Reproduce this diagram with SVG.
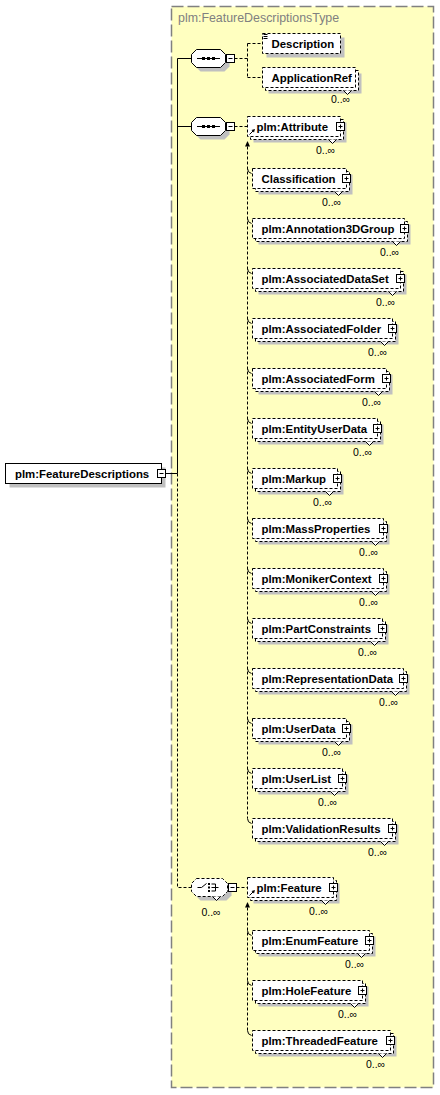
<svg xmlns="http://www.w3.org/2000/svg" width="440" height="1095" viewBox="0 0 440 1095">
<style>
.t{font-family:"Liberation Sans",Arial,sans-serif;font-weight:bold;font-size:11.4px;fill:#000}
.m{font-family:"Liberation Sans",Arial,sans-serif;font-size:10.5px;fill:#000;text-anchor:middle}
.ttl{font-family:"Liberation Sans",Arial,sans-serif;font-size:12.4px;fill:#808080}
.sh{fill:#c0c0c0}
.bx{fill:#fff;stroke:#000;stroke-width:1}
.db{fill:#fff;stroke:#000;stroke-width:1;stroke-dasharray:3 2}
.nt{fill:#fff;stroke:#000;stroke-width:1}
.ln{fill:none;stroke:#000;stroke-width:1}
.dl{fill:none;stroke:#000;stroke-width:1;stroke-dasharray:3 2}
.pb{fill:#fff;stroke:#000;stroke-width:1}
.ar{fill:#000}
</style>
<rect x="171.5" y="6.5" width="262" height="1081" fill="#ffffc0" stroke="#808080" stroke-width="1.5" stroke-dasharray="12 4"/>
<text class="ttl" x="178" y="22">plm:FeatureDescriptionsType</text>

<g id="connectors">
<path class="ln" d="M165.5,473.5H177.5M177.5,58.5V473.5M177.5,58.5H191.5M177.5,126.5H191.5"/>
<path class="dl" d="M177.5,473.5V887.5H191.5"/>
<path class="dl" d="M234.5,58.5H247.5M247.5,43.5V77.5M247.5,43.5H262.5M247.5,77.5H262.5"/>
<path class="dl" d="M234.5,126.5H247.5"/>
<path class="dl" d="M236.5,887.5H247.5"/>
<polygon class="ar" points="247.5,141 245,146.5 250,146.5"/>
<path class="dl" d="M247.5,146.5V818.5"/>
<path class="ln" d="M247.5,168.5q0,4 4,5M247.5,218.5q0,4 4,5M247.5,268.5q0,4 4,5M247.5,318.5q0,4 4,5M247.5,368.5q0,4 4,5M247.5,418.5q0,4 4,5M247.5,468.5q0,4 4,5M247.5,518.5q0,4 4,5M247.5,568.5q0,4 4,5M247.5,618.5q0,4 4,5M247.5,668.5q0,4 4,5M247.5,718.5q0,4 4,5M247.5,768.5q0,4 4,5M247.5,818.5q0,4 4,5"/>
<polygon class="ar" points="247.5,902 245,907.5 250,907.5"/>
<path class="dl" d="M247.5,907.5V1030.5"/>
<path class="ln" d="M247.5,930.5q0,4 4,5M247.5,980.5q0,4 4,5M247.5,1030.5q0,4 4,5"/>
</g>

<g id="root">
<rect class="sh" x="9.5" y="467.5" width="156" height="20"/>
<rect class="bx" x="5.5" y="463.5" width="156" height="20"/>
<text class="t" x="15" y="477.5">plm:FeatureDescriptions</text>
<rect class="pb" x="157.5" y="469.5" width="8" height="8"/>
<path class="ln" d="M159.5,473.5h4"/>
</g>

<g id="seq1">
<polygon class="sh" points="200.5,53.5 224.5,53.5 229.5,58.5 229.5,66.5 224.5,71.5 200.5,71.5 195.5,66.5 195.5,58.5"/>
<polygon class="bx" points="196.5,49.5 220.5,49.5 225.5,54.5 225.5,62.5 220.5,67.5 196.5,67.5 191.5,62.5 191.5,54.5"/>
<path class="ln" d="M197,58.5H220"/>
<rect class="ar" x="202" y="57" width="3" height="3"/><rect class="ar" x="207" y="57" width="3" height="3"/><rect class="ar" x="212" y="57" width="3" height="3"/>
<rect class="pb" x="226.5" y="54.5" width="8" height="8"/>
<path class="ln" d="M228.5,58.5h4"/>
</g>

<g id="description">
<rect class="sh" x="266.5" y="37.5" width="78" height="20"/>
<rect class="db" x="262.5" y="33.5" width="78" height="20"/>
<path class="ln" d="M263.5,34.5h4M263.5,36.5h4M263.5,38.5h4"/>
<text class="t" x="271.5" y="47.5">Description</text>
</g>

<g id="applicationref">
<rect class="sh" x="268.5" y="73.5" width="93" height="20"/>
<rect class="db" x="265.5" y="70.5" width="93" height="20"/>
<path class="nt" d="M343.5,90.5l4,4l4,-4"/>
<rect class="db" x="262.5" y="67.5" width="93" height="20"/>
<text class="t" x="271.5" y="81.5">ApplicationRef</text>
<text class="m" x="340.5" y="103">0..∞</text>
</g>

<g id="seq2">
<polygon class="sh" points="200.5,121.5 224.5,121.5 229.5,126.5 229.5,134.5 224.5,139.5 200.5,139.5 195.5,134.5 195.5,126.5"/>
<polygon class="bx" points="196.5,117.5 220.5,117.5 225.5,122.5 225.5,130.5 220.5,135.5 196.5,135.5 191.5,130.5 191.5,122.5"/>
<path class="ln" d="M197,126.5H220"/>
<rect class="ar" x="202" y="125" width="3" height="3"/><rect class="ar" x="207" y="125" width="3" height="3"/><rect class="ar" x="212" y="125" width="3" height="3"/>
<rect class="pb" x="226.5" y="122.5" width="8" height="8"/>
<path class="ln" d="M228.5,126.5h4"/>
</g>

<g id="attribute">
<rect class="sh" x="253.5" y="122.5" width="93" height="20"/>
<rect class="db" x="250.5" y="119.5" width="93" height="20"/>
<path class="nt" d="M328.5,139.5l4,4l4,-4"/>
<rect class="db" x="247.5" y="116.5" width="93" height="20"/>
<path class="ln" d="M249.5,134.5L253,131"/>
<polygon class="ar" points="255,129 251.5,130 254,132.5"/>
<text class="t" x="256.5" y="130.5">plm:Attribute</text>
<rect class="pb" x="336.5" y="122.5" width="8" height="8"/>
<path class="ln" d="M338.5,126.5h4M340.5,124.5v4"/>
<text class="m" x="325.5" y="153.5">0..∞</text>
</g>

<g id="classification">
<rect class="sh" x="258.5" y="174.5" width="94" height="20"/>
<rect class="db" x="255.5" y="171.5" width="94" height="20"/>
<path class="nt" d="M334.5,191.5l4,4l4,-4"/>
<rect class="db" x="252.5" y="168.5" width="94" height="20"/>
<text class="t" x="261.5" y="182.5">Classification</text>
<rect class="pb" x="342.5" y="174.5" width="8" height="8"/>
<path class="ln" d="M344.5,178.5h4M346.5,176.5v4"/>
<text class="m" x="331.5" y="205.5">0..∞</text>
</g>

<g id="annotation3dgroup">
<rect class="sh" x="258.5" y="224.5" width="152" height="20"/>
<rect class="db" x="255.5" y="221.5" width="152" height="20"/>
<path class="nt" d="M392.5,241.5l4,4l4,-4"/>
<rect class="db" x="252.5" y="218.5" width="152" height="20"/>
<text class="t" x="261.5" y="232.5">plm:Annotation3DGroup</text>
<rect class="pb" x="400.5" y="224.5" width="8" height="8"/>
<path class="ln" d="M402.5,228.5h4M404.5,226.5v4"/>
<text class="m" x="389.5" y="255.5">0..∞</text>
</g>

<g id="associateddataset">
<rect class="sh" x="258.5" y="274.5" width="148" height="20"/>
<rect class="db" x="255.5" y="271.5" width="148" height="20"/>
<path class="nt" d="M388.5,291.5l4,4l4,-4"/>
<rect class="db" x="252.5" y="268.5" width="148" height="20"/>
<text class="t" x="261.5" y="282.5">plm:AssociatedDataSet</text>
<rect class="pb" x="396.5" y="274.5" width="8" height="8"/>
<path class="ln" d="M398.5,278.5h4M400.5,276.5v4"/>
<text class="m" x="385.5" y="305.5">0..∞</text>
</g>

<g id="associatedfolder">
<rect class="sh" x="258.5" y="324.5" width="140" height="20"/>
<rect class="db" x="255.5" y="321.5" width="140" height="20"/>
<path class="nt" d="M380.5,341.5l4,4l4,-4"/>
<rect class="db" x="252.5" y="318.5" width="140" height="20"/>
<text class="t" x="261.5" y="332.5">plm:AssociatedFolder</text>
<rect class="pb" x="388.5" y="324.5" width="8" height="8"/>
<path class="ln" d="M390.5,328.5h4M392.5,326.5v4"/>
<text class="m" x="377.5" y="355.5">0..∞</text>
</g>

<g id="associatedform">
<rect class="sh" x="258.5" y="374.5" width="134" height="20"/>
<rect class="db" x="255.5" y="371.5" width="134" height="20"/>
<path class="nt" d="M374.5,391.5l4,4l4,-4"/>
<rect class="db" x="252.5" y="368.5" width="134" height="20"/>
<text class="t" x="261.5" y="382.5">plm:AssociatedForm</text>
<rect class="pb" x="382.5" y="374.5" width="8" height="8"/>
<path class="ln" d="M384.5,378.5h4M386.5,376.5v4"/>
<text class="m" x="371.5" y="405.5">0..∞</text>
</g>

<g id="entityuserdata">
<rect class="sh" x="258.5" y="424.5" width="125" height="20"/>
<rect class="db" x="255.5" y="421.5" width="125" height="20"/>
<path class="nt" d="M365.5,441.5l4,4l4,-4"/>
<rect class="db" x="252.5" y="418.5" width="125" height="20"/>
<text class="t" x="261.5" y="432.5">plm:EntityUserData</text>
<rect class="pb" x="373.5" y="424.5" width="8" height="8"/>
<path class="ln" d="M375.5,428.5h4M377.5,426.5v4"/>
<text class="m" x="362.5" y="455.5">0..∞</text>
</g>

<g id="markup">
<rect class="sh" x="258.5" y="474.5" width="85" height="20"/>
<rect class="db" x="255.5" y="471.5" width="85" height="20"/>
<path class="nt" d="M325.5,491.5l4,4l4,-4"/>
<rect class="db" x="252.5" y="468.5" width="85" height="20"/>
<text class="t" x="261.5" y="482.5">plm:Markup</text>
<rect class="pb" x="333.5" y="474.5" width="8" height="8"/>
<path class="ln" d="M335.5,478.5h4M337.5,476.5v4"/>
<text class="m" x="322.5" y="505.5">0..∞</text>
</g>

<g id="massproperties">
<rect class="sh" x="258.5" y="524.5" width="131" height="20"/>
<rect class="db" x="255.5" y="521.5" width="131" height="20"/>
<path class="nt" d="M371.5,541.5l4,4l4,-4"/>
<rect class="db" x="252.5" y="518.5" width="131" height="20"/>
<text class="t" x="261.5" y="532.5">plm:MassProperties</text>
<rect class="pb" x="379.5" y="524.5" width="8" height="8"/>
<path class="ln" d="M381.5,528.5h4M383.5,526.5v4"/>
<text class="m" x="368.5" y="555.5">0..∞</text>
</g>

<g id="monikercontext">
<rect class="sh" x="258.5" y="574.5" width="131" height="20"/>
<rect class="db" x="255.5" y="571.5" width="131" height="20"/>
<path class="nt" d="M371.5,591.5l4,4l4,-4"/>
<rect class="db" x="252.5" y="568.5" width="131" height="20"/>
<text class="t" x="261.5" y="582.5">plm:MonikerContext</text>
<rect class="pb" x="379.5" y="574.5" width="8" height="8"/>
<path class="ln" d="M381.5,578.5h4M383.5,576.5v4"/>
<text class="m" x="368.5" y="605.5">0..∞</text>
</g>

<g id="partconstraints">
<rect class="sh" x="258.5" y="624.5" width="130" height="20"/>
<rect class="db" x="255.5" y="621.5" width="130" height="20"/>
<path class="nt" d="M370.5,641.5l4,4l4,-4"/>
<rect class="db" x="252.5" y="618.5" width="130" height="20"/>
<text class="t" x="261.5" y="632.5">plm:PartConstraints</text>
<rect class="pb" x="378.5" y="624.5" width="8" height="8"/>
<path class="ln" d="M380.5,628.5h4M382.5,626.5v4"/>
<text class="m" x="367.5" y="655.5">0..∞</text>
</g>

<g id="representationdata">
<rect class="sh" x="258.5" y="674.5" width="151" height="20"/>
<rect class="db" x="255.5" y="671.5" width="151" height="20"/>
<path class="nt" d="M391.5,691.5l4,4l4,-4"/>
<rect class="db" x="252.5" y="668.5" width="151" height="20"/>
<text class="t" x="261.5" y="682.5">plm:RepresentationData</text>
<rect class="pb" x="399.5" y="674.5" width="8" height="8"/>
<path class="ln" d="M401.5,678.5h4M403.5,676.5v4"/>
<text class="m" x="388.5" y="705.5">0..∞</text>
</g>

<g id="userdata">
<rect class="sh" x="258.5" y="724.5" width="94" height="20"/>
<rect class="db" x="255.5" y="721.5" width="94" height="20"/>
<path class="nt" d="M334.5,741.5l4,4l4,-4"/>
<rect class="db" x="252.5" y="718.5" width="94" height="20"/>
<text class="t" x="261.5" y="732.5">plm:UserData</text>
<rect class="pb" x="342.5" y="724.5" width="8" height="8"/>
<path class="ln" d="M344.5,728.5h4M346.5,726.5v4"/>
<text class="m" x="331.5" y="755.5">0..∞</text>
</g>

<g id="userlist">
<rect class="sh" x="258.5" y="774.5" width="90" height="20"/>
<rect class="db" x="255.5" y="771.5" width="90" height="20"/>
<path class="nt" d="M330.5,791.5l4,4l4,-4"/>
<rect class="db" x="252.5" y="768.5" width="90" height="20"/>
<text class="t" x="261.5" y="782.5">plm:UserList</text>
<rect class="pb" x="338.5" y="774.5" width="8" height="8"/>
<path class="ln" d="M340.5,778.5h4M342.5,776.5v4"/>
<text class="m" x="327.5" y="805.5">0..∞</text>
</g>

<g id="validationresults">
<rect class="sh" x="258.5" y="824.5" width="140" height="20"/>
<rect class="db" x="255.5" y="821.5" width="140" height="20"/>
<path class="nt" d="M380.5,841.5l4,4l4,-4"/>
<rect class="db" x="252.5" y="818.5" width="140" height="20"/>
<text class="t" x="261.5" y="832.5">plm:ValidationResults</text>
<rect class="pb" x="388.5" y="824.5" width="8" height="8"/>
<path class="ln" d="M390.5,828.5h4M392.5,826.5v4"/>
<text class="m" x="377.5" y="855.5">0..∞</text>
</g>

<g id="choice">
<polygon class="sh" points="200.5,882.5 226.5,882.5 231.5,887.5 231.5,895.5 226.5,900.5 200.5,900.5 195.5,895.5 195.5,887.5"/>
<polygon class="db" points="196.5,878.5 222.5,878.5 227.5,883.5 227.5,891.5 222.5,896.5 196.5,896.5 191.5,891.5 191.5,883.5"/>
<path class="nt" d="M212.5,896.5l4,4l4,-4"/>
<path class="ln" d="M197.5,887.5h4l5,-4"/>
<rect class="ar" x="208" y="883" width="2" height="2"/><rect class="ar" x="208" y="886.5" width="2" height="2"/><rect class="ar" x="208" y="890" width="2" height="2"/>
<path class="ln" d="M211.5,884h4M211.5,887.5h7M211.5,891h4M215.5,884v7"/>
<rect class="pb" x="228.5" y="883.5" width="8" height="8"/>
<path class="ln" d="M230.5,887.5h4"/>
<text class="m" x="211" y="916">0..∞</text>
</g>

<g id="feature">
<rect class="sh" x="253.5" y="883.5" width="86" height="20"/>
<rect class="db" x="250.5" y="880.5" width="86" height="20"/>
<path class="nt" d="M321.5,900.5l4,4l4,-4"/>
<rect class="db" x="247.5" y="877.5" width="86" height="20"/>
<path class="ln" d="M249.5,895.5L253,892"/>
<polygon class="ar" points="255,890 251.5,891 254,893.5"/>
<text class="t" x="256.5" y="891.5">plm:Feature</text>
<rect class="pb" x="329.5" y="883.5" width="8" height="8"/>
<path class="ln" d="M331.5,887.5h4M333.5,885.5v4"/>
<text class="m" x="318.5" y="914.5">0..∞</text>
</g>

<g id="enumfeature">
<rect class="sh" x="258.5" y="936.5" width="117" height="20"/>
<rect class="db" x="255.5" y="933.5" width="117" height="20"/>
<path class="nt" d="M357.5,953.5l4,4l4,-4"/>
<rect class="db" x="252.5" y="930.5" width="117" height="20"/>
<text class="t" x="261.5" y="944.5">plm:EnumFeature</text>
<rect class="pb" x="365.5" y="936.5" width="8" height="8"/>
<path class="ln" d="M367.5,940.5h4M369.5,938.5v4"/>
<text class="m" x="354.5" y="967.5">0..∞</text>
</g>

<g id="holefeature">
<rect class="sh" x="258.5" y="986.5" width="110" height="20"/>
<rect class="db" x="255.5" y="983.5" width="110" height="20"/>
<path class="nt" d="M350.5,1003.5l4,4l4,-4"/>
<rect class="db" x="252.5" y="980.5" width="110" height="20"/>
<text class="t" x="261.5" y="994.5">plm:HoleFeature</text>
<rect class="pb" x="358.5" y="986.5" width="8" height="8"/>
<path class="ln" d="M360.5,990.5h4M362.5,988.5v4"/>
<text class="m" x="347.5" y="1017.5">0..∞</text>
</g>

<g id="threadedfeature">
<rect class="sh" x="258.5" y="1036.5" width="138" height="20"/>
<rect class="db" x="255.5" y="1033.5" width="138" height="20"/>
<path class="nt" d="M378.5,1053.5l4,4l4,-4"/>
<rect class="db" x="252.5" y="1030.5" width="138" height="20"/>
<text class="t" x="261.5" y="1044.5">plm:ThreadedFeature</text>
<rect class="pb" x="386.5" y="1036.5" width="8" height="8"/>
<path class="ln" d="M388.5,1040.5h4M390.5,1038.5v4"/>
<text class="m" x="375.5" y="1067.5">0..∞</text>
</g>
</svg>
